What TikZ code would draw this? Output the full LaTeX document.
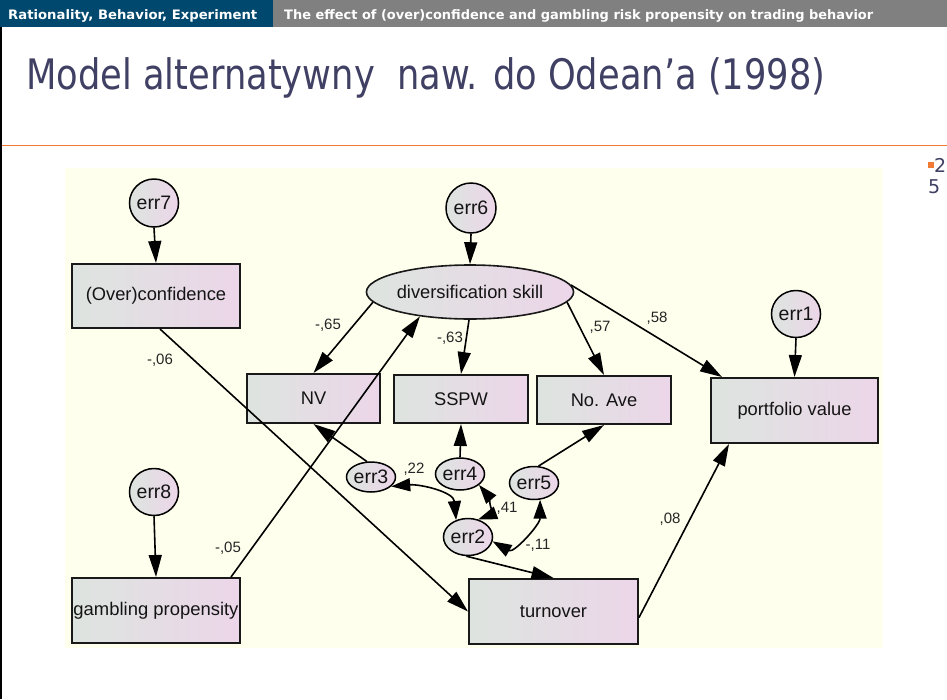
\documentclass[tikz,border=0pt]{standalone}
\usepackage{fontspec}
\setmainfont{Liberation Sans}
\newfontfamily\slidefont{DejaVu Sans}
\usetikzlibrary{arrows.meta,shapes.geometric,calc}

\definecolor{hdrblue}{RGB}{0,72,110}
\definecolor{hdrgray}{RGB}{128,128,128}
\definecolor{slate}{RGB}{64,64,100}
\definecolor{rulecol}{RGB}{242,122,50}
\definecolor{panel}{RGB}{255,255,238}
\definecolor{fillL}{RGB}{221,228,223}
\definecolor{fillR}{RGB}{236,214,233}
\definecolor{edgecol}{RGB}{25,25,25}

\tikzset{
  varbase/.style={draw=edgecol, left color=fillL, right color=fillR,
    inner sep=0pt, text=black!92, font=\fontsize{18.3}{21}\selectfont},
  obsbox/.style={varbase, rectangle, line width=2pt},
  latent/.style={varbase, ellipse, line width=1.6pt},
  errnode/.style={varbase, ellipse, draw=black, line width=1.5pt,
    font=\fontsize{19.5}{22}\selectfont},
  regpath/.style={line width=1.6pt, -{Triangle[length=22pt,width=13pt]}},
  cov/.style={line width=1.6pt,
    {Triangle[length=19pt,width=13pt]}-{Triangle[length=19pt,width=13pt]}},
  coef/.style={font=\fontsize{15}{17}\selectfont, text=black!85, inner sep=0pt},
}

\begin{document}
\begin{tikzpicture}[x=1pt,y=-1pt]
\useasboundingbox (0,0) rectangle (947,699);
\fill[white] (0,0) rectangle (947,699);

% slide header
\fill[hdrblue] (0,0) rectangle (273,27);
\fill[hdrgray] (273,0) rectangle (947,27);
\node[anchor=base west, inner sep=0pt, text=white] (hdrleft) at (8,19)
  {\resizebox{249pt}{\height}{\slidefont\bfseries\fontsize{13}{15}\selectfont Rationality, Behavior, Experiment}};
\node[anchor=base west, inner sep=0pt, text=white] (hdrright) at (284,19)
  {\resizebox{589pt}{\height}{\slidefont\bfseries\fontsize{13}{15}\selectfont The effect of (over)confidence and gambling risk propensity on trading behavior}};

% slide title and rules
\node[anchor=base west, inner sep=0pt, text=slate] (title) at (26,89)
  {\resizebox{799pt}{\height}{\slidefont\fontsize{42}{48}\selectfont Model alternatywny\ \ naw. do Odean’a (1998)}};
\draw[rulecol, line width=1pt] (0,145) -- (947,145);
\draw[black, line width=1.5pt] (1,27) -- (1,699);

% page number
\fill[rulecol] (928,162) rectangle (934,168);
\node[anchor=base west, inner sep=0pt, text=slate, font=\slidefont\fontsize{19}{22}\selectfont] (pgA) at (934,172) {2};
\node[anchor=base west, inner sep=0pt, text=slate, font=\slidefont\fontsize{19}{22}\selectfont] (pgB) at (928,193) {5};

% diagram panel
\fill[panel] (65,168) rectangle (883,648);

% observed variables
\node[obsbox, minimum width=168pt, minimum height=64pt] (oc) at (156,296) {(Over)confidence};
\node[obsbox, minimum width=168pt, minimum height=65pt] (gp) at (156,610.5)
  {\resizebox{165pt}{\height}{gambling propensity}};
\node[obsbox, minimum width=133pt, minimum height=49pt] (nv) at (313.5,398.5) {NV};
\node[obsbox, minimum width=134pt, minimum height=48pt] (ss) at (461,399) {SSPW};
\node[obsbox, minimum width=134pt, minimum height=48pt] (na) at (604,400) {No. Ave};
\node[obsbox, minimum width=167pt, minimum height=65pt] (pv) at (794.5,410.5) {portfolio value};
\node[obsbox, minimum width=169pt, minimum height=65pt] (tu) at (553.5,611.5) {turnover};

% latent variable
\node[latent, minimum width=196pt, minimum height=54pt] (ds) at (470,292) {diversification skill};

% error terms
\node[errnode, minimum width=48pt, minimum height=48pt] (e7) at (154,203) {err7};
\node[errnode, minimum width=50pt, minimum height=50pt] (e6) at (471,208) {err6};
\node[errnode, minimum width=47pt, minimum height=47pt] (e1) at (796,314) {err1};
\node[errnode, minimum width=47pt, minimum height=47pt] (e8) at (154,492) {err8};
\node[errnode, minimum width=46pt, minimum height=30pt] (e3) at (371,477) {err3};
\node[errnode, minimum width=46pt, minimum height=32pt] (e4) at (460,474) {err4};
\node[errnode, minimum width=42pt, minimum height=33pt] (e5) at (534,483) {err5};
\node[errnode, minimum width=44pt, minimum height=37pt] (e2) at (468,537) {err2};

% error arrows
\draw[regpath] (e7.south) -- (oc.north);
\draw[regpath] (e6.south) -- (ds.north);
\draw[regpath] (e1.south) -- (pv.north);
\draw[regpath] (e8.south) -- (gp.north);
\draw[regpath] (e3.105) -- (nv.south);
\draw[regpath] (e4.north) -- (ss.south);
\draw[regpath] (e5.75) -- (na.south);
\draw[regpath] (e2.-95) -- (tu.north);

% structural paths
\draw[regpath] (ds.186) -- (nv.north);
\draw[regpath] (ds.-92) -- (ss.north);
\draw[regpath] (ds.-6) -- (na.north);
\draw[regpath] (ds.4) -- ($(pv.north west)+(12,0)$);
\draw[regpath] ($(gp.north east)+(-10,0)$) -- (ds.206);
\draw[regpath] ($(oc.south)+(4,0)$) -- (tu.west);
\draw[regpath] ($(tu.east)+(0,6)$) -- ($(pv.south west)+(19,0)$);

% covariances
\draw[cov] (e3.-25) to[out=5, in=95] (e2.125);
\draw[cov] (e4.-30) to[out=-50, in=20] (e2.60);
\draw[cov] (e2.-10) to[out=-30, in=-90] (e5.-70);

% coefficients
\node[coef] (c65) at (328,325) {-,65};
\node[coef] (c63) at (450,338) {-,63};
\node[coef] (c57) at (600,327) {,57};
\node[coef] (c58) at (657,318) {,58};
\node[coef] (c06) at (160,360) {-,06};
\node[coef] (c05) at (228,548) {-,05};
\node[coef] (c22) at (414,469) {,22};
\node[coef] (c41) at (507,508) {,41};
\node[coef] (c11) at (538,545) {-,11};
\node[coef] (c08) at (670,519) {,08};
\end{tikzpicture}
\end{document}
